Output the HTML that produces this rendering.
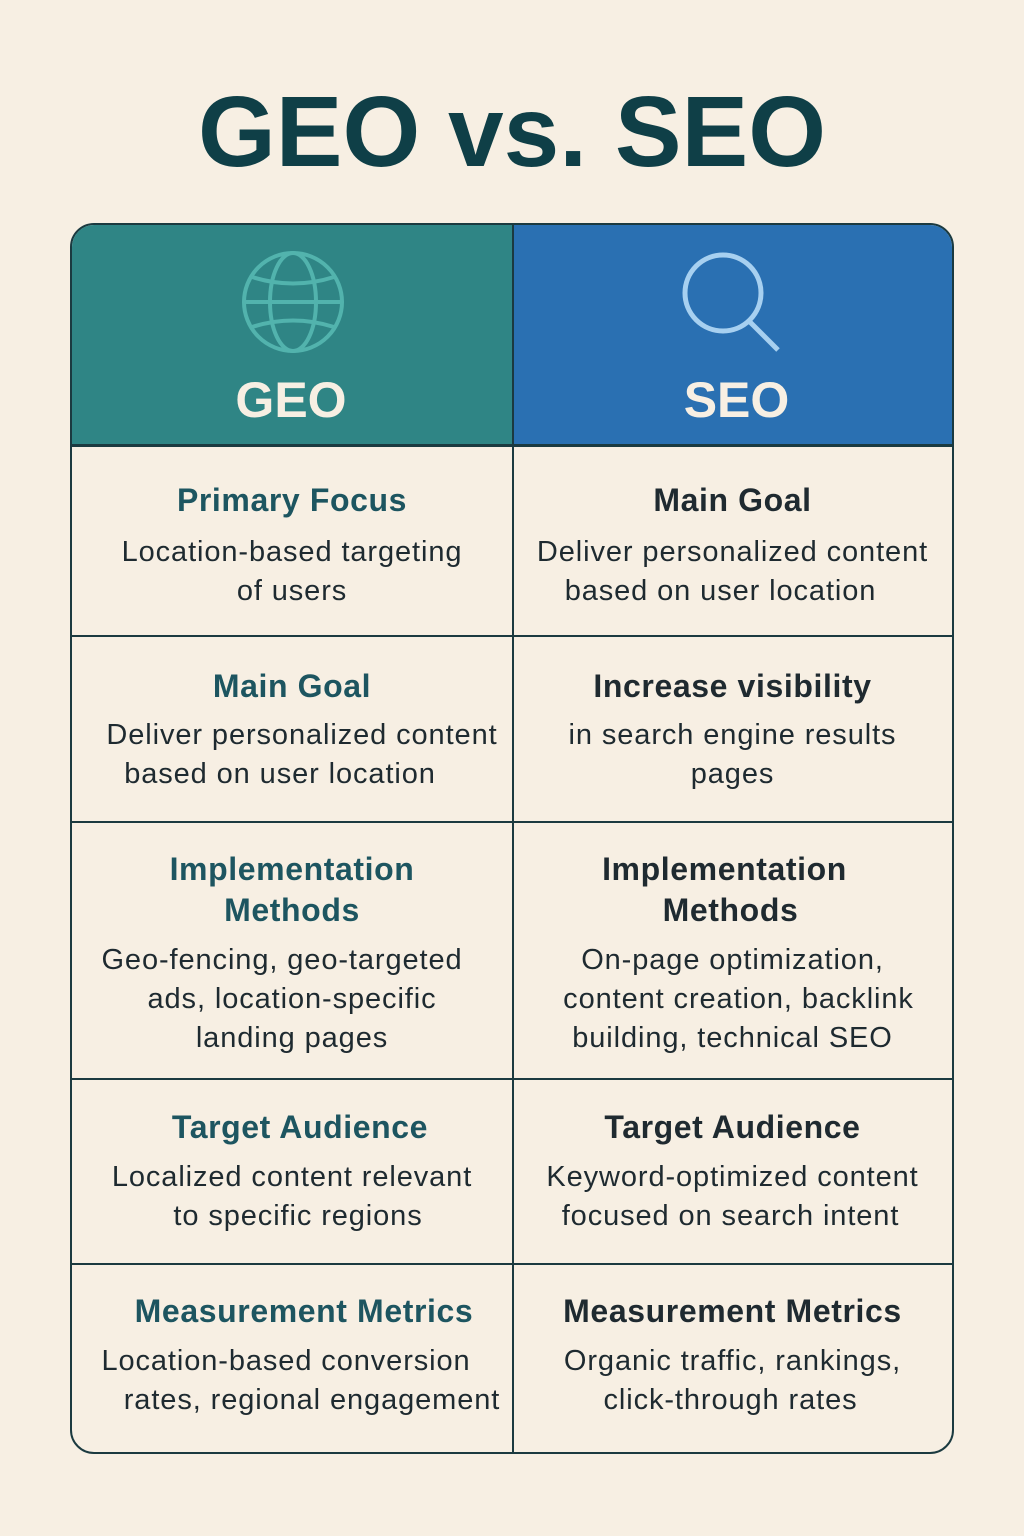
<!DOCTYPE html>
<html><head><meta charset="utf-8"><style>
body{margin:0;width:1024px;height:1536px;background:#f7efe3;position:relative;overflow:hidden;font-family:"Liberation Sans","DejaVu Sans",sans-serif}
.t{position:absolute;height:40px;line-height:40px;text-align:center;white-space:nowrap}
.L{left:72px;width:440px}.R{left:512px;width:441px}
.h{font-weight:bold;font-size:32px;letter-spacing:0.6px}
.L.h{color:#1d5560}.R.h{color:#1f2a30}
.b{font-size:29px;color:#1e2a30;letter-spacing:0.9px}
.hl{position:absolute;left:71px;width:882px;height:2px;background:#1b3a40}
</style></head><body>
<div style="position:absolute;left:0;width:1024px;top:62px;text-align:center;font-size:100px;font-weight:bold;color:#0f3f47;line-height:140px">GEO vs. SEO</div>
<div style="position:absolute;left:70px;top:223px;width:880px;height:1227px;border:2px solid #1b3a40;border-radius:24px;overflow:hidden">
 <div style="position:absolute;left:0;top:0;width:441px;height:221px;background:#2f8585"></div>
 <div style="position:absolute;left:441px;top:0;width:441px;height:221px;background:#2a70b2"></div>
 <div style="position:absolute;left:440px;top:0;width:2px;height:1230px;background:#1b3a40"></div>
</div>
<div class="hl" style="top:444px;height:3px"></div>
<div class="hl" style="top:635px"></div>
<div class="hl" style="top:821px"></div>
<div class="hl" style="top:1078px"></div>
<div class="hl" style="top:1263px"></div>
<svg style="position:absolute;left:0;top:0" width="1024" height="460">
<g fill="none" stroke="#52b3ad" stroke-width="4">
<circle cx="293" cy="302" r="49"/>
<ellipse cx="293" cy="302" rx="23" ry="49"/>
<line x1="244" y1="302" x2="342" y2="302"/>
<path d="M252 277 Q293 290 334 277"/><path d="M252 327 Q293 314 334 327"/>
</g>
<g fill="none" stroke="#a7d0f0" stroke-width="5">
<circle cx="723" cy="293" r="38"/><line x1="750" y1="322" x2="778" y2="350"/>
</g>
</svg>
<div class="t L" style="top:374px;font-size:50px;font-weight:bold;color:#f7efe3;height:52px;line-height:52px;left:71px">GEO</div>
<div class="t R" style="top:374px;font-size:50px;font-weight:bold;color:#f7efe3;height:52px;line-height:52px;left:516px">SEO</div>

<div class="t L h" style="top:480px">Primary Focus</div>
<div class="t L b" style="top:532px">Location-based targeting</div>
<div class="t L b" style="top:571px">of users</div>
<div class="t R h" style="top:480px">Main Goal</div>
<div class="t R b" style="top:532px">Deliver personalized content</div>
<div class="t R b" style="top:571px;left:500px">based on user location</div>

<div class="t L h" style="top:666px">Main Goal</div>
<div class="t L b" style="top:715px;left:82px">Deliver personalized content</div>
<div class="t L b" style="top:754px;left:60px">based on user location</div>
<div class="t R h" style="top:666px">Increase visibility</div>
<div class="t R b" style="top:715px">in search engine results</div>
<div class="t R b" style="top:754px">pages</div>

<div class="t L h" style="top:849px">Implementation</div>
<div class="t L h" style="top:890px">Methods</div>
<div class="t L b" style="top:940px;left:62px">Geo-fencing, geo-targeted</div>
<div class="t L b" style="top:979px">ads, location-specific</div>
<div class="t L b" style="top:1018px">landing pages</div>
<div class="t R h" style="top:849px;left:504px">Implementation</div>
<div class="t R h" style="top:890px;left:510px">Methods</div>
<div class="t R b" style="top:940px">On-page optimization,</div>
<div class="t R b" style="top:979px;left:518px">content creation, backlink</div>
<div class="t R b" style="top:1018px">building, technical SEO</div>

<div class="t L h" style="top:1107px;left:80px">Target Audience</div>
<div class="t L b" style="top:1157px">Localized content relevant</div>
<div class="t L b" style="top:1196px;left:78px">to specific regions</div>
<div class="t R h" style="top:1107px">Target Audience</div>
<div class="t R b" style="top:1157px">Keyword-optimized content</div>
<div class="t R b" style="top:1196px;left:510px">focused on search intent</div>

<div class="t L h" style="top:1291px;left:84px">Measurement Metrics</div>
<div class="t L b" style="top:1341px;left:66px">Location-based conversion</div>
<div class="t L b" style="top:1380px;left:92px">rates, regional engagement</div>
<div class="t R h" style="top:1291px">Measurement Metrics</div>
<div class="t R b" style="top:1341px">Organic traffic, rankings,</div>
<div class="t R b" style="top:1380px;left:510px">click-through rates</div>
</body></html>
